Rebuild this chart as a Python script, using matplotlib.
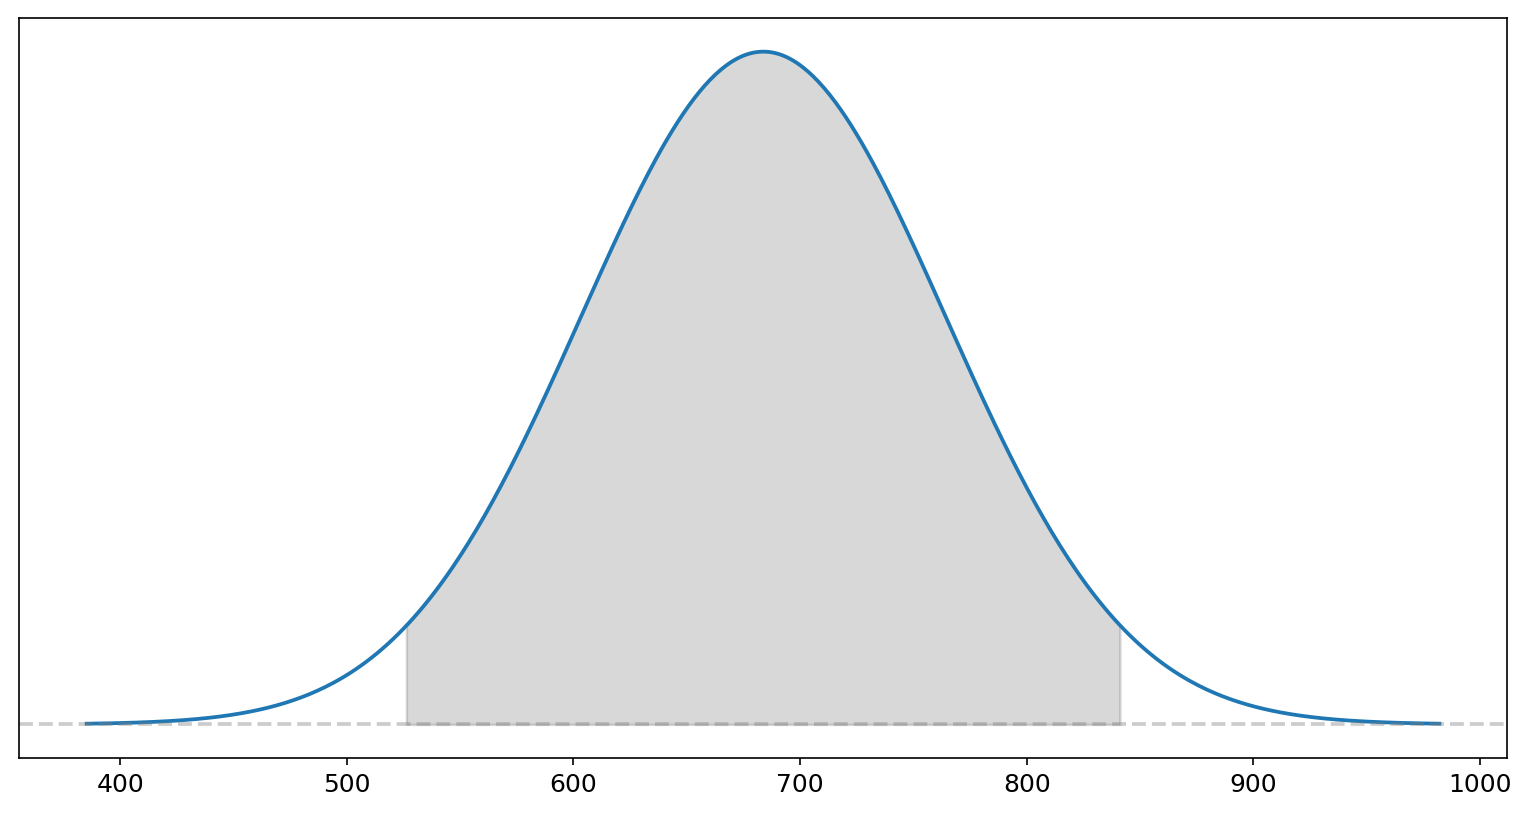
import numpy as np
import matplotlib
matplotlib.use("Agg")
import matplotlib.pyplot as plt

# parametros de la normal
mu = 683.8
sigma = 80.4
x_min, x_max = 385.2, 982.1
ci_low, ci_high = 526.3, 841.1
xticks = [400, 500, 600, 700, 800, 900, 1000]


def pdf(x):
    return np.exp(-0.5 * ((x - mu) / sigma) ** 2) / (sigma * np.sqrt(2 * np.pi))


x = np.linspace(x_min, x_max, 500)
xs = np.linspace(ci_low, ci_high, 300)

fig = plt.figure(figsize=(1534 / 150, 822 / 150), dpi=150)
ax = fig.add_axes([19 / 1534, 1 - 758 / 822, (1507 - 19) / 1534, (758 - 18) / 822])

ax.plot(x, pdf(x), color="#1f77b4", lw=1.8)
ax.fill_between(xs, 0, pdf(xs), color="gray", alpha=0.3, lw=1.2)
ax.axhline(0, color="gray", alpha=0.4, ls="--", lw=1.8)

ax.set_xticks(xticks)
ax.set_yticks([])
ax.tick_params(labelsize=12)

fig.savefig("out.png", dpi=150)
